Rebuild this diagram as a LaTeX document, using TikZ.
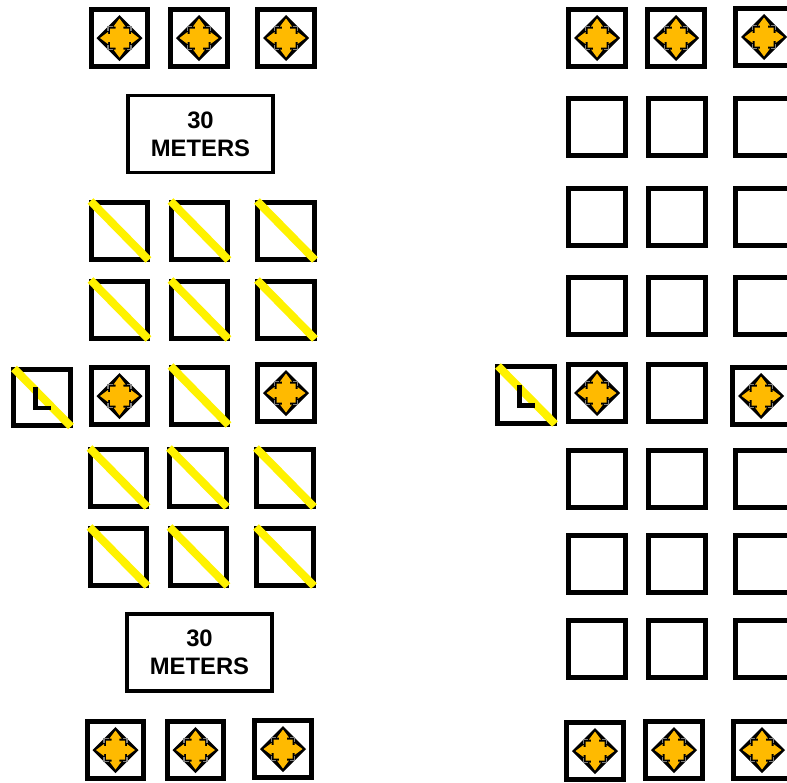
\documentclass[tikz,border=0pt]{standalone}
\usepackage{fontspec}
\setmainfont{Liberation Sans}
\definecolor{amberfill}{RGB}{255,186,0}
\tikzset{
  x=1pt,y=-1pt,
  sq/.style={draw=black,line width=5.2pt,fill=white,minimum size=56.5pt,inner sep=0pt,shape=rectangle},
  signbox/.style={draw=black,line width=3.4pt,fill=white,minimum width=145pt,minimum height=77pt,inner sep=0pt,align=center,font=\fontsize{23.8}{28}\selectfont\bfseries},
  yl/.style={draw=yellow,line width=8pt},
  lmark/.style={draw=black,line width=4.4pt}
}
\newcommand{\myicon}[2]{
  \begin{scope}[shift={(#1,#2)}]
    \fill[black] (0,-23) -- (23,0) -- (0,23) -- (-23,0) -- cycle;
    \draw[black!50,line width=1.1pt] (-11.5,-7) -- (-11.5,-11.5) -- (-7,-11.5) (11.5,-7) -- (11.5,-11.5) -- (7,-11.5)
      (-11.5,7) -- (-11.5,11.5) -- (-7,11.5) (11.5,7) -- (11.5,11.5) -- (7,11.5);
    \fill[amberfill]
      (0,-19.5) -- (6,-11.5) -- (3.8,-11.5) -- (3.8,-9.5) -- (9.5,-9.5) -- (9.5,-3.8) -- (11.5,-3.8) -- (11.5,-6) -- (19.5,0)
      -- (11.5,6) -- (11.5,3.8) -- (9.5,3.8) -- (9.5,9.5) -- (3.8,9.5) -- (3.8,11.5) -- (6,11.5) -- (0,19.5)
      -- (-6,11.5) -- (-3.8,11.5) -- (-3.8,9.5) -- (-9.5,9.5) -- (-9.5,3.8) -- (-11.5,3.8) -- (-11.5,6) -- (-19.5,0)
      -- (-11.5,-6) -- (-11.5,-3.8) -- (-9.5,-3.8) -- (-9.5,-9.5) -- (-3.8,-9.5) -- (-3.8,-11.5) -- (-6,-11.5) -- cycle;
  \end{scope}
}
\newcommand{\iconbox}[2]{\node[sq] at (#1,#2) {}; \myicon{#1}{#2}}
\newcommand{\slashbox}[2]{\node[sq] at (#1,#2) {}; \draw[yl] (#1-29,#2-30) -- (#1+29,#2+29);}
\newcommand{\lbox}[2]{\node[sq] at (#1,#2) {};
  \draw[yl] (#1-28,#2-29) -- (#1+29,#2+29);
  \draw[lmark] (#1-6.5,#2-10.5) -- (#1-6.5,#2+10.5) -- (#1+8.5,#2+10.5);}
\newcommand{\plainbox}[2]{\node[sq] at (#1,#2) {};}
\begin{document}
\begin{tikzpicture}
\useasboundingbox (0,0) rectangle (787,782);
\clip (0,0) rectangle (787,782);
% left column
\iconbox{119.5}{38}\iconbox{199}{38}\iconbox{286}{38}
\node[signbox] (s1) at (200.5,134) {30\\METERS};
\foreach \a/\b in {119.5/231,199.5/231,286/231,119.5/310,199.5/310,286/310,199.5/396,118.5/478,198/478,285/478,118.5/557,198.5/557,285/557}{\slashbox{\a}{\b}}
\lbox{42}{397.5}
\iconbox{119.5}{396}\iconbox{286}{393}
\node[signbox] (s2) at (199.5,652.5) {30\\METERS};
\iconbox{115.5}{750}\iconbox{195.5}{750}\iconbox{283}{749}
% right column
\iconbox{597}{38}\iconbox{676}{38}\iconbox{764}{37}
\foreach \b in {127,217,306,479,564,649}{\plainbox{597}{\b}\plainbox{677}{\b}\plainbox{764}{\b}}
\lbox{526}{395}
\iconbox{597}{393}\plainbox{677}{393}\iconbox{761}{396}
\iconbox{595}{751}\iconbox{674}{750}\iconbox{762}{750}
\end{tikzpicture}
\end{document}
